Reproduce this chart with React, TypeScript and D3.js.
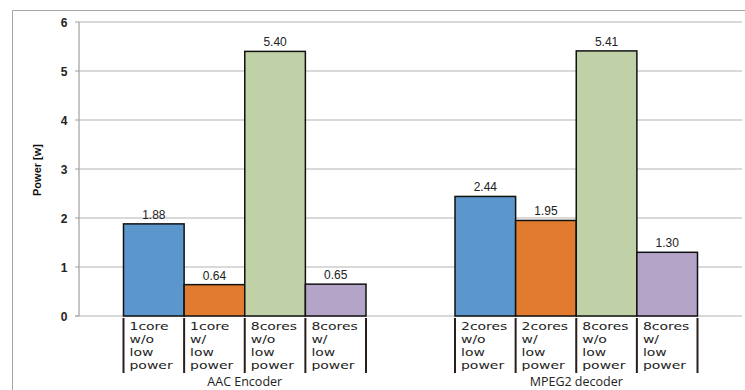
import React from "react";
import * as d3 from "d3";

const groups = ["AAC Encoder", "MPEG2 decoder"];
const seriesLabels = [
  [["1core", "w/o", "low", "power"], ["1core", "w/", "low", "power"], ["8cores", "w/o", "low", "power"], ["8cores", "w/", "low", "power"]],
  [["2cores", "w/o", "low", "power"], ["2cores", "w/", "low", "power"], ["8cores", "w/o", "low", "power"], ["8cores", "w/", "low", "power"]],
];
const aacValues = [1.88, 0.64, 5.4, 0.65];
const mpegValues = [2.44, 1.95, 5.41, 1.3];
const yTicks = [0, 1, 2, 3, 4, 5, 6];
const colors = ["#5b96cc", "#e07b2f", "#c0d1a7", "#b3a4c8"];

export default function App() {
  const W = 745, H = 390;
  const left = 79, right = 742, top = 22, bottom = 316;
  const y = d3.scaleLinear().domain([0, 6]).range([bottom, top]);
  const gx = d3.scaleBand().domain(groups).range([left, right]).padding(0);
  const ix = d3.scaleBand<number>().domain([0, 1, 2, 3]).range([0, gx.bandwidth()]).paddingInner(0).paddingOuter(0.734);
  const data = [aacValues, mpegValues];
  const sans = "'DejaVu Sans', sans-serif";
  const arial = "'Liberation Sans', Arial, sans-serif";
  return (
    <svg width={W} height={H} style={{ position: "absolute", left: 0, top: 0, background: "#fff" }}>
      <line x1={12.5} y1={10.5} x2={W} y2={10.5} stroke="#a6a6a6" strokeWidth={1} />
      <line x1={12.5} y1={10.5} x2={12.5} y2={H} stroke="#a6a6a6" strokeWidth={1} />
      {yTicks.map((t) => (
        <g key={t}>
          <line x1={t === 0 ? 75 : left} x2={right} y1={y(t)} y2={y(t)} stroke="#b3b3b3" strokeWidth={1} />
          <line x1={75} x2={left} y1={y(t)} y2={y(t)} stroke="#a0a0a0" strokeWidth={1} />
          <text x={64} y={y(t) + 4.5} textAnchor="middle" fontFamily={arial} fontSize={12} fontWeight="bold" fill="#222">{t}</text>
        </g>
      ))}
      <line x1={left} x2={left} y1={top} y2={bottom} stroke="#a0a0a0" strokeWidth={1.2} />
      <text transform={`translate(41,${170}) rotate(-90)`} textAnchor="middle" fontFamily={arial} fontSize={11} fontWeight="bold" fill="#111">Power [w]</text>
      {groups.map((g, gi) => {
        const gx0 = gx(g)!;
        return (
          <g key={g}>
            {data[gi].map((v, i) => {
              const x0 = gx0 + ix(i)!;
              return (
                <g key={i}>
                  <rect x={x0} y={y(v)} width={ix.bandwidth()} height={bottom - y(v)} fill={colors[i]} stroke="#111" strokeWidth={1.5} />
                  <text x={x0 + ix.bandwidth() / 2} y={y(v) - 5} textAnchor="middle" fontFamily={arial} fontSize={12} fill="#222">{v.toFixed(2)}</text>
                  <line x1={x0} x2={x0} y1={318} y2={373} stroke="#2a1e1a" strokeWidth={2} />
                  {seriesLabels[gi][i].map((s, li) => (
                    <text key={li} transform={`translate(${x0 + 6},${330 + li * 13}) scale(1.27,1)`} fontFamily={sans} fontSize={11} fill="#222">{s}</text>
                  ))}
                </g>
              );
            })}
            <line x1={gx0 + ix(3)! + ix.bandwidth()} x2={gx0 + ix(3)! + ix.bandwidth()} y1={318} y2={373} stroke="#2a1e1a" strokeWidth={2} />
            <text x={gx0 + gx.bandwidth() / 2} y={386} textAnchor="middle" fontFamily="'Open Sans', sans-serif" fontSize={12.5} fill="#222">{g}</text>
          </g>
        );
      })}
    </svg>
  );
}
